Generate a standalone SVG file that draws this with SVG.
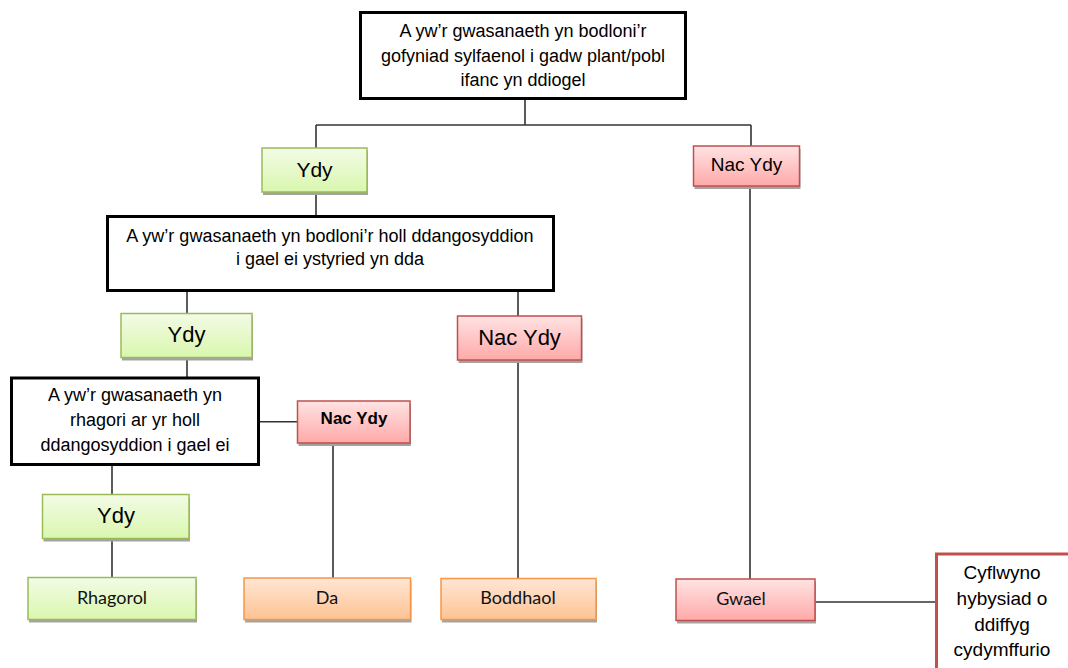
<svg xmlns="http://www.w3.org/2000/svg" width="1068" height="668" viewBox="0 0 1068 668">
<defs>
<linearGradient id="gGreen" x1="0" y1="0" x2="0" y2="1"><stop offset="0" stop-color="#f3fbe6"/><stop offset="1" stop-color="#d9f7ae"/></linearGradient>
<linearGradient id="gRed" x1="0" y1="0" x2="0" y2="1"><stop offset="0" stop-color="#ffe3e3"/><stop offset="1" stop-color="#ffa9a9"/></linearGradient>
<linearGradient id="gOrange" x1="0" y1="0" x2="0" y2="1"><stop offset="0" stop-color="#ffe6d4"/><stop offset="1" stop-color="#fdc394"/></linearGradient>
</defs>
<style>
.q{fill:#fff;stroke:#000;stroke-width:3}
.sh{fill:#a3a3a3}
.green{fill:url(#gGreen);stroke:#9bbb59;stroke-width:1.5}
.red{fill:url(#gRed);stroke:#c0504d;stroke-width:1.5}
.orange{fill:url(#gOrange);stroke:#f79646;stroke-width:1.5}
.t{font-family:"Liberation Sans",Arial,sans-serif;fill:#000;text-anchor:middle}
.c{font-family:Lato,"Liberation Sans",sans-serif;fill:#111;text-anchor:middle;font-size:18px}
.qt{font-size:18px}
.conn line{stroke:#333;stroke-width:1.6}
</style>
<g id="connectors" class="conn">
<line x1="525" y1="100" x2="525" y2="125"/>
<line x1="316" y1="125" x2="751" y2="125"/>
<line x1="316" y1="125" x2="316" y2="148"/>
<line x1="751" y1="125" x2="751" y2="146"/>
<line x1="316" y1="192" x2="316" y2="215"/>
<line x1="750" y1="189" x2="750" y2="579"/>
<line x1="187" y1="292" x2="187" y2="313.5"/>
<line x1="518" y1="292" x2="518" y2="316"/>
<line x1="518" y1="360" x2="518" y2="578.5"/>
<line x1="187" y1="357.5" x2="187" y2="377"/>
<line x1="260" y1="421.7" x2="297.5" y2="421.7"/>
<line x1="333" y1="443" x2="333" y2="578"/>
<line x1="112" y1="466" x2="112" y2="494.5"/>
<line x1="112" y1="538.5" x2="112" y2="577.5"/>
<line x1="815" y1="602" x2="935" y2="602"/>
</g>
<g id="q1">
<rect class="q" x="360.5" y="12.5" width="325" height="86"/>
<text class="t qt" x="523" y="37">A yw’r gwasanaeth yn bodloni’r</text>
<text class="t qt" x="523" y="61.5">gofyniad sylfaenol i gadw plant/pobl</text>
<text class="t qt" x="523" y="86">ifanc yn ddiogel</text>
</g>
<g id="yes1">
<rect class="sh" x="263" y="151" width="105" height="44"/>
<rect class="green" x="262" y="148" width="105" height="44"/>
<text class="t" font-size="21" x="314.5" y="177">Ydy</text>
</g>
<g id="no1">
<rect class="sh" x="694.5" y="149" width="106" height="40"/>
<rect class="red" x="693.5" y="146" width="106" height="40"/>
<text class="t" font-size="19" x="746.5" y="171">Nac Ydy</text>
</g>
<g id="q2">
<rect class="q" x="107.5" y="216.5" width="446" height="74"/>
<text class="t qt" x="330" y="242">A yw’r gwasanaeth yn bodloni’r holl ddangosyddion</text>
<text class="t qt" x="330" y="265">i gael ei ystyried yn dda</text>
</g>
<g id="yes2">
<rect class="sh" x="122" y="316.5" width="131" height="44"/>
<rect class="green" x="121" y="313.5" width="131" height="44"/>
<text class="t" font-size="22" x="186.5" y="342">Ydy</text>
</g>
<g id="no2">
<rect class="sh" x="458.5" y="319" width="124" height="44"/>
<rect class="red" x="457.5" y="316" width="124" height="44"/>
<text class="t" font-size="22" x="519.5" y="345">Nac Ydy</text>
</g>
<g id="q3">
<rect class="q" x="11.5" y="378" width="247" height="86.5"/>
<text class="t qt" x="135" y="401">A yw’r gwasanaeth yn</text>
<text class="t qt" x="135" y="426">rhagori ar yr holl</text>
<text class="t qt" x="135" y="450.5">ddangosyddion i gael ei</text>
</g>
<g id="no3">
<rect class="sh" x="298.5" y="404" width="112.5" height="42"/>
<rect class="red" x="297.5" y="401" width="112.5" height="42"/>
<text class="t" font-size="17" font-weight="bold" x="354" y="424">Nac Ydy</text>
</g>
<g id="yes3">
<rect class="sh" x="43.5" y="497.5" width="146.5" height="44"/>
<rect class="green" x="42.5" y="494.5" width="146.5" height="44"/>
<text class="t" font-size="22" x="116" y="523">Ydy</text>
</g>
<g id="rhagorol">
<rect class="sh" x="29" y="580.5" width="168" height="42"/>
<rect class="green" x="28" y="577.5" width="168" height="42"/>
<text class="c" x="112" y="604">Rhagorol</text>
</g>
<g id="da">
<rect class="sh" x="245" y="581" width="166.5" height="41.5"/>
<rect class="orange" x="244" y="578" width="166.5" height="41.5"/>
<text class="c" x="327" y="604">Da</text>
</g>
<g id="boddhaol">
<rect class="sh" x="442" y="581.5" width="155" height="41"/>
<rect class="orange" x="441" y="578.5" width="155" height="41"/>
<text class="c" x="518" y="604">Boddhaol</text>
</g>
<g id="gwael">
<rect class="sh" x="677" y="582" width="139" height="41.5"/>
<rect class="red" x="676" y="579" width="139" height="41.5"/>
<text class="c" x="741" y="605">Gwael</text>
</g>
<g id="cyflwyno">
<rect x="936.5" y="554" width="140" height="130" fill="#fff" stroke="#c0504d" stroke-width="3"/>
<text class="t" font-size="19" x="1002" y="579">Cyflwyno</text>
<text class="t" font-size="19" x="1002" y="605">hybysiad o</text>
<text class="t" font-size="19" x="1002" y="630.5">ddiffyg</text>
<text class="t" font-size="19" x="1002" y="656">cydymffurio</text>
</g>
</svg>
